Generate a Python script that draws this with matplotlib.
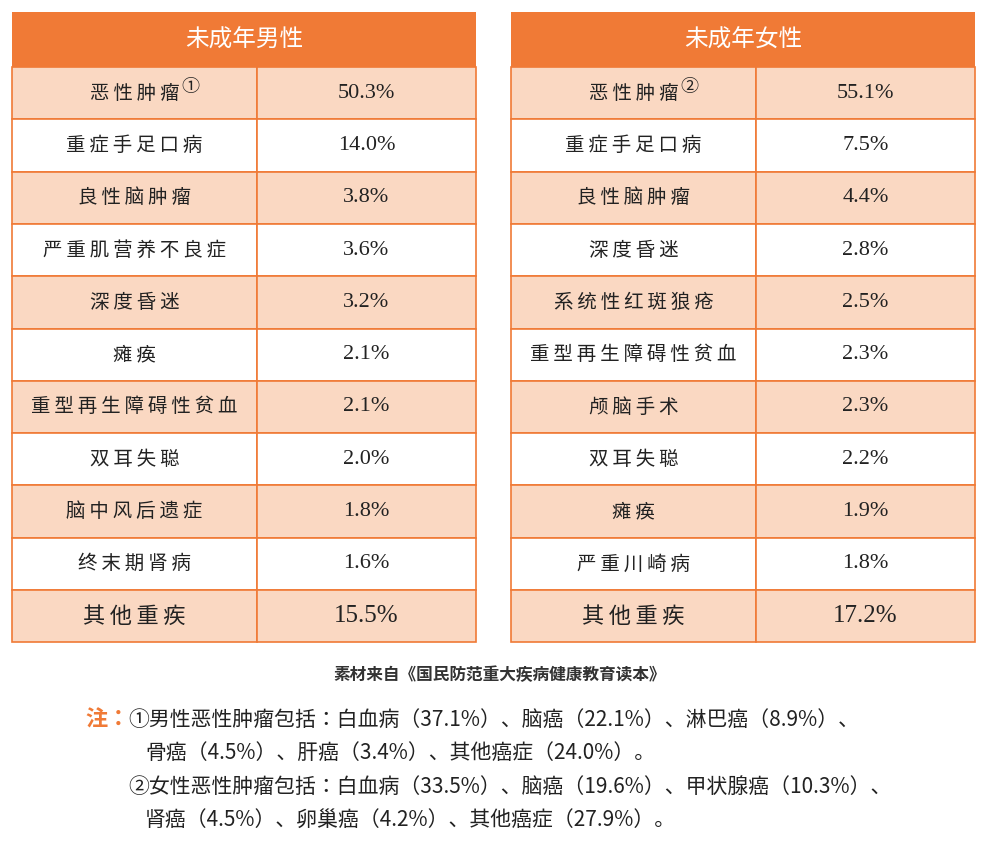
import matplotlib.pyplot as plt
from matplotlib.patches import Rectangle

CJK = ["Noto Sans CJK JP", "Noto Sans CJK SC", "Noto Sans CJK TC", "Noto Sans CJK KR", "DejaVu Sans"]
NUM = "Liberation Serif"
ORANGE = "#F07A36"
PEACH = "#FAD8C2"

male_title = "未成年男性"
male_names = ["恶性肿瘤", "重症手足口病", "良性脑肿瘤", "严重肌营养不良症", "深度昏迷",
              "瘫痪", "重型再生障碍性贫血", "双耳失聪", "脑中风后遗症", "终末期肾病", "其他重疾"]
male_vals = ["50.3%", "14.0%", "3.8%", "3.6%", "3.2%", "2.1%", "2.1%", "2.0%", "1.8%", "1.6%", "15.5%"]

female_title = "未成年女性"
female_names = ["恶性肿瘤", "重症手足口病", "良性脑肿瘤", "深度昏迷", "系统性红斑狼疮",
                "重型再生障碍性贫血", "颅脑手术", "双耳失聪", "瘫痪", "严重川崎病", "其他重疾"]
female_vals = ["55.1%", "7.5%", "4.4%", "2.8%", "2.5%", "2.3%", "2.3%", "2.2%", "1.9%", "1.8%", "17.2%"]

source = "素材来自《国民防范重大疾病健康教育读本》"
notes = [
    "①男性恶性肿瘤包括：白血病（37.1%）、脑癌（22.1%）、淋巴癌（8.9%）、",
    "骨癌（4.5%）、肝癌（3.4%）、其他癌症（24.0%）。",
    "②女性恶性肿瘤包括：白血病（33.5%）、脑癌（19.6%）、甲状腺癌（10.3%）、",
    "肾癌（4.5%）、卵巢癌（4.2%）、其他癌症（27.9%）。",
]

fig = plt.figure(figsize=(9.99, 8.52), dpi=100)
ax = fig.add_axes([0, 0, 1, 1])
ax.set_xlim(0, 999)
ax.set_ylim(852, 0)
ax.axis("off")

top, head_h, row_h = 12, 55, 52.3


def draw_table(x0, xs, x1, title, names, vals, marker):
    ax.add_patch(Rectangle((x0, top), x1 - x0, head_h, color=ORANGE, lw=0))
    ax.text((x0 + x1) / 2, top + head_h / 2 + 1, title, fontfamily=CJK, fontsize=17,
            color="white", ha="center", va="center")
    for i, (n, v) in enumerate(zip(names, vals)):
        y = top + head_h + i * row_h
        fc = PEACH if i % 2 == 0 else "white"
        for a, b in ((x0, xs), (xs, x1)):
            ax.add_patch(Rectangle((a, y), b - a, row_h, fc=fc, ec=ORANGE, lw=1.2))
        big = i == len(names) - 1
        fs = 16 if big else 14
        # spaced characters like the reference
        label = "\u2009".join(n)
        ax.text((x0 + xs) / 2, y + row_h / 2, label, fontfamily=CJK, fontsize=fs,
                color="#222222", ha="center", va="center")
        if i == 0:
            ax.text((x0 + xs) / 2 + 47, y + row_h / 2 - 6, marker, fontfamily=CJK,
                    fontsize=13, color="#222222", ha="left", va="center")
        ax.text((xs + x1) / 2, y + row_h / 2, v, fontfamily=NUM, fontsize=fs + 2,
                color="#222222", ha="center", va="center")


draw_table(12, 257, 476, male_title, male_names, male_vals, "①")
draw_table(511, 756, 975, female_title, female_names, female_vals, "②")

ax.text(500, 675, source, fontfamily=CJK, fontsize=12, fontweight="bold",
        color="#333333", ha="center", va="center")
ax.text(85, 720, "注：", fontfamily=CJK, fontsize=16, fontweight="bold",
        color=ORANGE, ha="left", va="center")
for (x, y), t in zip([(128, 720), (145, 753), (128, 787), (145, 820)], notes):
    ax.text(x, y, t, fontfamily=CJK, fontsize=15, color="#222222", ha="left", va="center")

fig.savefig("out.png", dpi=100)
